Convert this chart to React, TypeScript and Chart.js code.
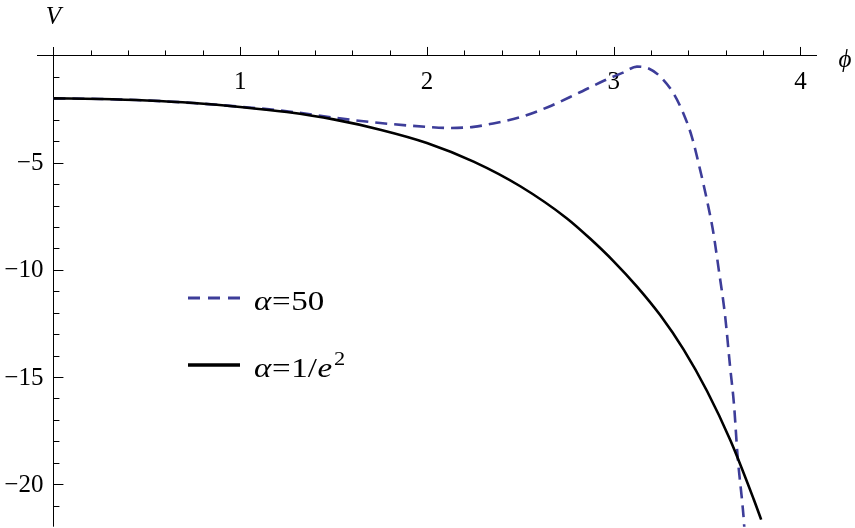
import React, { useEffect, useRef } from "react";
import { Chart, registerables } from "chart.js";

Chart.register(...registerables);

// Data
const PHI_SOLID = [0, 0.25, 0.5, 0.75, 1.0, 1.25, 1.5, 1.75, 2.0, 2.25, 2.5, 2.75, 2.875, 3.0, 3.125, 3.25, 3.375, 3.5, 3.625, 3.75, 3.79];
const V_SOLID = [-2.0, -2.03, -2.1, -2.22, -2.4, -2.64, -2.98, -3.46, -4.08, -4.95, -6.1, -7.6, -8.55, -9.6, -10.78, -12.12, -13.72, -15.65, -17.95, -20.7, -21.65];

const PHI_DASHED = [0, 0.25, 0.5, 0.75, 1.0, 1.25, 1.5, 1.75, 2.0, 2.12, 2.25, 2.338, 2.5, 2.65, 2.8, 2.95, 3.05, 3.125, 3.19, 3.249, 3.32, 3.373, 3.418, 3.463, 3.499, 3.534, 3.563, 3.597, 3.623, 3.645, 3.663, 3.695, 3.702];
const V_DASHED = [-2.0, -2.03, -2.1, -2.22, -2.39, -2.6, -2.9, -3.15, -3.33, -3.38, -3.33, -3.2, -2.88, -2.4, -1.8, -1.17, -0.8, -0.52, -0.62, -0.98, -1.76, -2.69, -3.77, -5.33, -6.72, -8.27, -10.0, -12.15, -14.47, -16.33, -18.6, -21.45, -22.3];

const X_MAJOR = [1, 2, 3, 4];
const X_MINOR_STEP = 0.2;
const Y_MAJOR = [-5, -10, -15, -20];
const Y_MINOR = [-1, -2, -3, -4, -6, -7, -8, -9, -11, -12, -13, -14, -16, -17, -18, -19, -21];

const SERIES_LABELS = ["α=50", "α=1/e²"];
const DASH_COLOR = "rgb(61,61,153)";
const FONT = '"Liberation Serif", "Times New Roman", serif';

const axesPlugin = {
  id: "mathAxes",
  beforeDatasetsDraw(chart: any) {
    const ctx = chart.ctx;
    const xs = chart.scales.x;
    const ys = chart.scales.y;
    const area = chart.chartArea;
    const x0 = xs.getPixelForValue(0);
    const y0 = ys.getPixelForValue(0);
    ctx.save();
    ctx.strokeStyle = "#000";
    ctx.lineWidth = 1;
    ctx.beginPath();
    ctx.moveTo(area.left, Math.round(y0) + 0.5);
    ctx.lineTo(area.right, Math.round(y0) + 0.5);
    ctx.stroke();
    ctx.beginPath();
    ctx.moveTo(Math.round(x0) + 0.5, area.top);
    ctx.lineTo(Math.round(x0) + 0.5, area.bottom);
    ctx.stroke();
    for (let i = 1; i <= 20; i++) {
      const v = i * X_MINOR_STEP;
      const px = Math.round(xs.getPixelForValue(v)) + 0.5;
      const major = i % 5 === 0;
      ctx.beginPath();
      ctx.moveTo(px, y0);
      ctx.lineTo(px, y0 - (major ? 8.5 : 5));
      ctx.stroke();
    }
    const drawYTick = (v: number, len: number) => {
      const py = Math.round(ys.getPixelForValue(v)) + 0.5;
      ctx.beginPath();
      ctx.moveTo(x0, py);
      ctx.lineTo(x0 + len, py);
      ctx.stroke();
    };
    Y_MINOR.forEach((v) => drawYTick(v, 6));
    Y_MAJOR.forEach((v) => drawYTick(v, 10));
    ctx.fillStyle = "#000";
    ctx.font = `25px ${FONT}`;
    ctx.textAlign = "center";
    ctx.textBaseline = "middle";
    X_MAJOR.forEach((v) => {
      ctx.fillText(String(v), xs.getPixelForValue(v), y0 + 27);
    });
    ctx.textAlign = "right";
    Y_MAJOR.forEach((v) => {
      ctx.fillText("\u2212" + String(Math.abs(v)), x0 - 10, ys.getPixelForValue(v) + 1);
    });
    ctx.font = `italic 25px ${FONT}`;
    ctx.textAlign = "center";
    ctx.fillText("V", x0, 17);
    ctx.fillText("\u03d5", 845, y0 + 5);
    ctx.restore();
  },
  afterDraw(chart: any) {
    const ctx = chart.ctx;
    ctx.save();
    ctx.strokeStyle = DASH_COLOR;
    ctx.lineWidth = 3;
    ctx.setLineDash([12, 8]);
    ctx.beginPath();
    ctx.moveTo(188, 298);
    ctx.lineTo(240, 298);
    ctx.stroke();
    ctx.setLineDash([]);
    ctx.strokeStyle = "#000";
    ctx.lineWidth = 3.5;
    ctx.beginPath();
    ctx.moveTo(188, 365);
    ctx.lineTo(240, 365);
    ctx.stroke();

    ctx.fillStyle = "#000";
    ctx.textBaseline = "alphabetic";
    ctx.textAlign = "left";
    const size = 28;
    const sx = 1.18;
    const drawRich = (parts: [string, string][], x: number, y: number) => {
      ctx.save();
      ctx.translate(x, y);
      ctx.scale(sx, 1);
      let cx = 0;
      parts.forEach(([txt, style]) => {
        if (style === "sup") {
          ctx.font = `${Math.round(size * 0.68)}px ${FONT}`;
          ctx.fillText(txt, cx + 1, -size * 0.42);
        } else {
          ctx.font = `${style === "i" ? "italic " : ""}${size}px ${FONT}`;
          ctx.fillText(txt, cx, 0);
        }
        cx += ctx.measureText(txt).width + 0.5;
      });
      ctx.restore();
    };
    drawRich([["α", "i"], ["=", "r"], ["50", "r"]], 254, 310);
    drawRich([["α", "i"], ["=", "r"], ["1/", "r"], ["e", "i"], ["2", "sup"]], 254, 377);
    ctx.restore();
  },
};

export default function App() {
  const ref = useRef<HTMLCanvasElement>(null);
  useEffect(() => {
    if (!ref.current) return;
    const solid = PHI_SOLID.map((x, i) => ({ x, y: V_SOLID[i] }));
    const dashed = PHI_DASHED.map((x, i) => ({ x, y: V_DASHED[i] }));
    const chart = new Chart(ref.current, {
      type: "scatter",
      data: {
        datasets: [
          {
            label: SERIES_LABELS[1],
            data: solid,
            showLine: true,
            borderColor: "#000",
            borderWidth: 2.6,
            pointRadius: 0,
            cubicInterpolationMode: "monotone",
          } as any,
          {
            label: SERIES_LABELS[0],
            data: dashed,
            showLine: true,
            borderColor: DASH_COLOR,
            borderWidth: 2.6,
            borderDash: [12, 7],
            pointRadius: 0,
            cubicInterpolationMode: "monotone",
          } as any,
        ],
      },
      options: {
        responsive: false,
        animation: false,
        layout: { padding: { left: 37, right: 38, top: 47, bottom: 0 } },
        scales: {
          x: { type: "linear", min: -0.088, max: 4.089, display: false },
          y: { type: "linear", min: -21.98, max: 0.395, display: false },
        },
        plugins: { legend: { display: false }, tooltip: { enabled: false } },
      },
      plugins: [axesPlugin],
    });
    let alive = true;
    if ((document as any).fonts) {
      Promise.all([
        (document as any).fonts.load(`25px "Liberation Serif"`),
        (document as any).fonts.load(`italic 25px "Liberation Serif"`),
      ]).then(() => { if (alive) chart.update("none"); }).catch(() => {});
    }
    return () => { alive = false; chart.destroy(); };
  }, []);
  return (
    <div style={{ position: "absolute", left: 0, top: 0, width: 855, height: 528, background: "#fff" }}>
      <canvas ref={ref} width={855} height={528} style={{ width: 855, height: 528, display: "block" }} />
    </div>
  );
}
